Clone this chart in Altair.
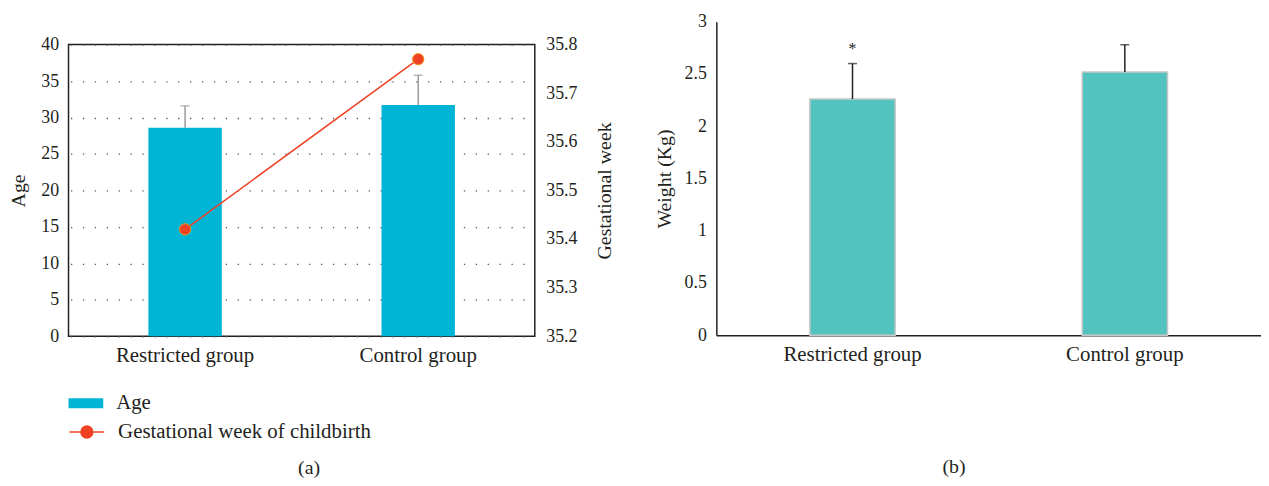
import altair as alt
import pandas as pd

groups = ["Restricted group", "Control group"]
age_mean = [28.6, 31.7]
age_upper = [31.6, 35.8]
gest_week = [35.42, 35.77]
weight_mean = [2.26, 2.52]
weight_upper = [2.60, 2.78]
sig = ["*", ""]

SERIF = "Liberation Serif"
TXT = "#231f20"

df_a = pd.DataFrame({
    "group": groups,
    "age": age_mean,
    "age_upper": age_upper,
    "gest": gest_week,
    "age_series": ["Age", "Age"],
    "gest_series": ["Gestational week of childbirth"] * 2,
})
df_b = pd.DataFrame({
    "group": groups,
    "weight": weight_mean,
    "weight_upper": weight_upper,
    "sig": sig,
})

# ---------- panel (a) ----------
x_a = alt.X("group:N", sort=groups,
            scale=alt.Scale(paddingInner=0, paddingOuter=0),
            axis=alt.Axis(title="(a)", titleX=242, titleY=132, titleBaseline="middle",
                          titleFontSize=20, labelAngle=0, labelFontSize=21, labelPadding=8,
                          domain=False))
base_a = alt.Chart(df_a).encode(x=x_a)

age_scale = alt.Scale(domain=[0, 40], nice=False)
age_axis = alt.Axis(title="Age", values=list(range(0, 41, 5)), format="d",
                    labelFontSize=18, labelPadding=10, titleFontSize=20, titlePadding=12,
                    grid=True, gridColor="#555", gridWidth=1.3, gridDash=[1.3, 10.7],
                    gridDashOffset=10, domain=False)

bars_a = base_a.mark_bar(size=74).encode(
    y=alt.Y("age:Q", scale=age_scale, axis=age_axis),
    fill=alt.Fill("age_series:N", scale=alt.Scale(range=["#00b4d5"]),
                  legend=alt.Legend(title=None, orient="none", legendX=0, legendY=367,
                                    symbolType="M-1,-0.29H1V0.29H-1Z", symbolSize=1225,
                                    symbolStrokeWidth=0, labelFontSize=21, labelOffset=13,
                                    labelLimit=500, padding=0)),
)
err_rule_a = base_a.mark_rule(color="#9a9a9a", strokeWidth=1.5).encode(
    y=alt.Y("age:Q", scale=age_scale, axis=age_axis), y2="age_upper:Q")
err_tick_a = base_a.mark_tick(color="#9a9a9a", thickness=1.5, size=9).encode(
    y=alt.Y("age_upper:Q", scale=age_scale, axis=age_axis))

gest_scale = alt.Scale(domain=[35.2, 35.8], nice=False, zero=False)
gest_axis = alt.Axis(orient="right", title="Gestational week",
                     values=[35.2, 35.3, 35.4, 35.5, 35.6, 35.7, 35.8], format=".1f",
                     labelFontSize=18, labelPadding=11, titleFontSize=20,
                     titlePadding=38, titleAngle=270, grid=False, domain=False)

line_a = base_a.mark_line(strokeWidth=1.5).encode(
    y=alt.Y("gest:Q", scale=gest_scale, axis=gest_axis),
    stroke=alt.Stroke("gest_series:N", scale=alt.Scale(range=["#ef4123"]),
                      legend=alt.Legend(title=None, orient="none", legendX=0, legendY=395,
                                        symbolType="M-1,0H1M-0.34,0A0.34,0.34,0,1,1,0.34,0A0.34,0.34,0,1,1,-0.34,0Z",
                                        symbolSize=1225, symbolFillColor="#ef4123",
                                        symbolStrokeWidth=1.5, labelFontSize=21,
                                        labelOffset=13, labelLimit=500, padding=0)),
)
pts_a = base_a.mark_point(filled=True, size=130, fill="#ef4123", stroke="#f7941d",
                          strokeWidth=1, opacity=1).encode(
    y=alt.Y("gest:Q", scale=gest_scale, axis=gest_axis))

left = alt.layer(
    alt.layer(bars_a, err_rule_a, err_tick_a),
    alt.layer(line_a, pts_a),
).resolve_scale(y="independent").properties(
    width=470, height=294,
    view=alt.ViewBackground(stroke="#231f20", strokeWidth=1.5),
)

spacer = alt.Chart(pd.DataFrame({"v": [0]})).mark_point(opacity=0).encode(
    x=alt.X("v:Q", axis=None), y=alt.Y("v:Q", axis=None)
).properties(width=470, height=13, view=alt.ViewBackground(stroke=None))

left_col = alt.vconcat(spacer, left, spacing=0)

# ---------- panel (b) ----------
x_b = alt.X("group:N", sort=groups,
            scale=alt.Scale(paddingInner=0, paddingOuter=0),
            axis=alt.Axis(title="(b)", titleX=239, titleY=132, titleBaseline="middle",
                          titleFontSize=20, labelAngle=0, labelFontSize=21, labelPadding=8,
                          domain=True))
base_b = alt.Chart(df_b).encode(x=x_b)

w_scale = alt.Scale(domain=[0, 3], nice=False)
w_axis = alt.Axis(title="Weight (Kg)", values=[0, 0.5, 1, 1.5, 2, 2.5, 3], format="~g",
                  labelFontSize=18, labelPadding=10, titleFontSize=20,
                  titlePadding=10, grid=False, domain=True)

bars_b = base_b.mark_bar(size=86, fill="#52c3bf", stroke="#c8c8c8", strokeWidth=1.5).encode(
    y=alt.Y("weight:Q", scale=w_scale, axis=w_axis))
err_rule_b = base_b.mark_rule(color="#231f20", strokeWidth=1.5).encode(
    y=alt.Y("weight:Q", scale=w_scale, axis=w_axis), y2="weight_upper:Q")
err_tick_b = base_b.mark_tick(color="#231f20", thickness=1.5, size=9).encode(
    y=alt.Y("weight_upper:Q", scale=w_scale, axis=w_axis))
sig_b = base_b.mark_text(font=SERIF, fontSize=16, dy=-15, color=TXT).encode(
    y=alt.Y("weight_upper:Q", scale=w_scale, axis=w_axis), text="sig:N")

right = alt.layer(bars_b, err_rule_b, err_tick_b, sig_b).properties(width=549, height=316)

chart = alt.hconcat(left_col, right, spacing=38).properties(
    padding={"left": 0, "top": 3, "right": 0, "bottom": 0}
).configure_view(stroke=None).configure_axis(
    labelFont=SERIF, titleFont=SERIF, labelColor=TXT, titleColor=TXT,
    ticks=False, tickSize=0, titleFontWeight="normal",
    domainColor=TXT, domainWidth=1.5,
).configure_legend(
    labelFont=SERIF, labelColor=TXT,
).configure_title(font=SERIF)

chart.save("out.html", embed_options={"renderer": "svg", "actions": False})
